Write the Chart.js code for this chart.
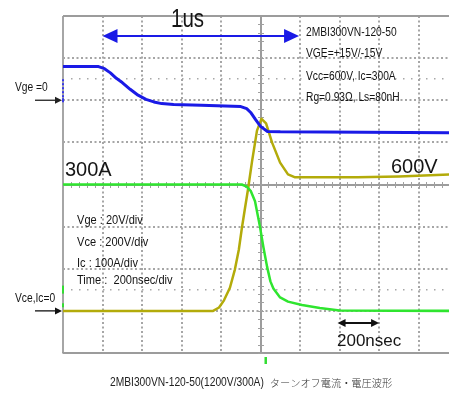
<!DOCTYPE html>
<html>
<head>
<meta charset="utf-8">
<script src="https://cdn.jsdelivr.net/npm/chart.js@4.4.0/dist/chart.umd.min.js"></script>
<style>
  html, body { margin: 0; padding: 0; background: #fff; }
  #scope { display: block; }
</style>
</head>
<body>
<canvas id="scope" width="449" height="394"></canvas>
<script>
// time in ns (200 ns/div), vertical position in divisions (0 = centre line)
const vgeTime = [0, 180, 210, 240, 270, 300, 340, 380, 420, 460, 500, 560, 700, 900, 930, 950, 975, 1000, 1035, 1100, 1954];
const vgeDiv  = [2.80, 2.80, 2.75, 2.65, 2.52, 2.42, 2.26, 2.12, 2.02, 1.96, 1.92, 1.90, 1.88, 1.85, 1.80, 1.71, 1.54, 1.38, 1.26, 1.25, 1.23];

const icTime = [0, 905, 930, 950, 972, 997, 1015, 1033, 1050, 1065, 1099, 1139, 1210, 1300, 1400, 1954];
const icDiv  = [0, 0, -0.05, -0.15, -0.40, -1.0, -1.5, -1.95, -2.3, -2.47, -2.68, -2.78, -2.86, -2.93, -2.99, -3.0];

const vceTime = [0, 760, 790, 815, 845, 870, 890, 905, 920, 937, 957, 982, 1005, 1028, 1058, 1099, 1139, 1175, 1490, 1700, 1954];
const vceDiv  = [-3.0, -3.0, -2.92, -2.75, -2.45, -2.02, -1.55, -1.05, -0.6, -0.1, 0.55, 1.28, 1.56, 1.45, 1.0, 0.52, 0.24, 0.17, 0.17, 0.19, 0.24];

const setupLines = ["2MBI300VN-120-50", "VGE=+15V/-15V", "Vcc=600V, Ic=300A", "Rg=0.93Ω, Ls=80nH"];
const scaleLines = ["Vge : 20V/div", "Vce : 200V/div", "Ic : 100A/div", "Time :  200nsec/div"];

const SANS = '"Liberation Sans", Arial, sans-serif';
const NARROW_X = 0.82; // no narrow face installed, squeeze the regular one

function toPoints(times, values) {
    return times.map((t, i) => ({ x: t, y: values[i] }));
}

function arrowHead(ctx, tipX, y, dir, len, half) {
    ctx.beginPath();
    ctx.moveTo(tipX, y);
    ctx.lineTo(tipX - dir * len, y - half);
    ctx.lineTo(tipX - dir * len, y + half);
    ctx.closePath();
    ctx.fill();
}

function arrow(ctx, x1, x2, y, color, len, half, width, both) {
    ctx.save();
    ctx.strokeStyle = color;
    ctx.fillStyle = color;
    ctx.lineWidth = width;
    ctx.beginPath();
    ctx.moveTo(both ? x1 + len - 1 : x1, y);
    ctx.lineTo(x2 - len + 1, y);
    ctx.stroke();
    arrowHead(ctx, x2, y, 1, len, half);
    if (both) arrowHead(ctx, x1, y, -1, len, half);
    ctx.restore();
}

function text(ctx, str, x, y, font, color, sx) {
    sx = sx || 1;
    ctx.save();
    ctx.font = font;
    ctx.fillStyle = color || "#151515";
    ctx.textBaseline = "middle";
    ctx.textAlign = "left";
    ctx.translate(x, y);
    ctx.scale(sx, 1);
    ctx.fillText(str, 0, 0);
    const w = ctx.measureText(str).width * sx;
    ctx.restore();
    return w;
}

const scopeDecor = {
    id: "scopeDecor",
    beforeDatasetsDraw(chart) {
        const { ctx, scales: { x, y } } = chart;
        const cx = Math.round(x.getPixelForValue(1000));
        const cy = Math.round(y.getPixelForValue(0));
        ctx.save();
        ctx.strokeStyle = "#a0a0a0";
        ctx.lineWidth = 1;
        ctx.beginPath();
        // minor ticks on the centre axes
        for (let t = 0; t <= 1954; t += 40) {
            const px = Math.round(x.getPixelForValue(t)) + 0.5;
            ctx.moveTo(px, cy - 3);
            ctx.lineTo(px, cy + 3);
        }
        for (let d = -4; d <= 4; d += 0.2) {
            const py = Math.round(y.getPixelForValue(d)) + 0.5;
            ctx.moveTo(cx - 3, py);
            ctx.lineTo(cx + 3, py);
        }
        ctx.stroke();
        // sparse dotted rows
        ctx.fillStyle = "#a8a8a8";
        [2.5, -2.5].forEach(d => {
            const py = Math.round(y.getPixelForValue(d));
            for (let t = 40; t <= 1954; t += 40) {
                ctx.fillRect(Math.round(x.getPixelForValue(t)), py - 1, 1.5, 1.5);
            }
        });
        ctx.restore();
    },
    afterDraw(chart) {
        const { ctx, scales: { x, y } } = chart;
        const left = x.getPixelForValue(0);
        ctx.save();

        // channel markers on the left edge and the trigger mark
        ctx.fillStyle = "#3a3ae8";
        for (let py = y.getPixelForValue(2.5); py < y.getPixelForValue(2.05); py += 4) {
            ctx.fillRect(left - 1, py, 2, 2);
        }
        ctx.fillRect(left - 1, y.getPixelForValue(2) - 2, 2, 4);
        ctx.fillStyle = "#33dd33";
        ctx.fillRect(left - 1, y.getPixelForValue(-2.4), 2, 8);
        ctx.fillRect(left - 1, y.getPixelForValue(-2.82), 2, 4);
        ctx.fillRect(x.getPixelForValue(1025) - 1, y.getPixelForValue(-4) + 4, 2.5, 7);

        // time-span arrows
        arrow(ctx, x.getPixelForValue(200), x.getPixelForValue(1195), 36, "#1a1ae6", 15, 7, 2, true);
        arrow(ctx, x.getPixelForValue(1390), x.getPixelForValue(1600), 323, "#111", 8, 4, 2, true);

        // zero-level arrows
        arrow(ctx, 35, left - 1, y.getPixelForValue(2), "#222", 7, 3.5, 1.3, false);
        arrow(ctx, 35, left - 1, y.getPixelForValue(-3), "#111", 7, 3.5, 1.3, false);

        text(ctx, "1us", 171, 20, "25px " + SANS, null, NARROW_X);
        setupLines.forEach((s, i) => text(ctx, s, 306, [33, 54, 77, 98][i], "12.5px " + SANS, null, NARROW_X));
        text(ctx, "Vge =0", 15, 88, "12.5px " + SANS, null, NARROW_X);
        text(ctx, "300A", 65, 170, "20px " + SANS);
        text(ctx, "600V", 391, 167, "20px " + SANS);
        scaleLines.forEach((s, i) => text(ctx, s, 77, [220, 242, 263, 280][i], "13.5px " + SANS, null, NARROW_X));
        text(ctx, "Vce,Ic=0", 15, 299, "12.5px " + SANS, null, NARROW_X);
        text(ctx, "200nsec", 337, 341, "17px " + SANS);

        const w = text(ctx, "2MBI300VN-120-50(1200V/300A)", 110, 383, "12.5px " + SANS, "#222", NARROW_X);
        text(ctx, "ターンオフ電流・電圧波形", 110 + w + 6, 383, "300 10.2px \"Noto Sans CJK JP\"", "#333");
        ctx.restore();
    }
};

function gridDash(solidValues) {
    return c => (c.tick && !solidValues.includes(c.tick.value)) ? [2, 2.5] : [];
}
function gridColor(solidValues) {
    return c => (c.tick && solidValues.includes(c.tick.value)) ? "#9c9c9c" : "#a6a6a6";
}

new Chart(document.getElementById("scope"), {
    type: "line",
    data: {
        datasets: [
            { label: "Vge", data: toPoints(vgeTime, vgeDiv), borderColor: "#1a1ae6", borderWidth: 3 },
            { label: "Ic", data: toPoints(icTime, icDiv), borderColor: "#2fe52f", borderWidth: 2.5 },
            { label: "Vce", data: toPoints(vceTime, vceDiv), borderColor: "#b3ab0a", borderWidth: 2.5 }
        ]
    },
    options: {
        responsive: false,
        animation: false,
        devicePixelRatio: 1,
        layout: { padding: { left: 63, top: 16, right: 0, bottom: 41 } },
        elements: {
            point: { radius: 0 },
            line: { tension: 0, borderJoinStyle: "round", borderCapStyle: "round" }
        },
        plugins: {
            legend: { display: false },
            tooltip: { enabled: false }
        },
        scales: {
            x: {
                type: "linear",
                min: 0,
                max: 1954,
                ticks: { display: false, stepSize: 200, includeBounds: false },
                grid: { drawTicks: false, color: gridColor([1000]), lineWidth: 2 },
                border: { display: true, color: "#9c9c9c", width: 1.5, dash: gridDash([0, 1000]) }
            },
            y: {
                min: -4,
                max: 4,
                ticks: { display: false, stepSize: 1 },
                grid: { drawTicks: false, color: gridColor([4, 0, -4]), lineWidth: 2 },
                border: { display: false, dash: gridDash([4, 0, -4]) }
            }
        }
    },
    plugins: [scopeDecor]
});
</script>
</body>
</html>
